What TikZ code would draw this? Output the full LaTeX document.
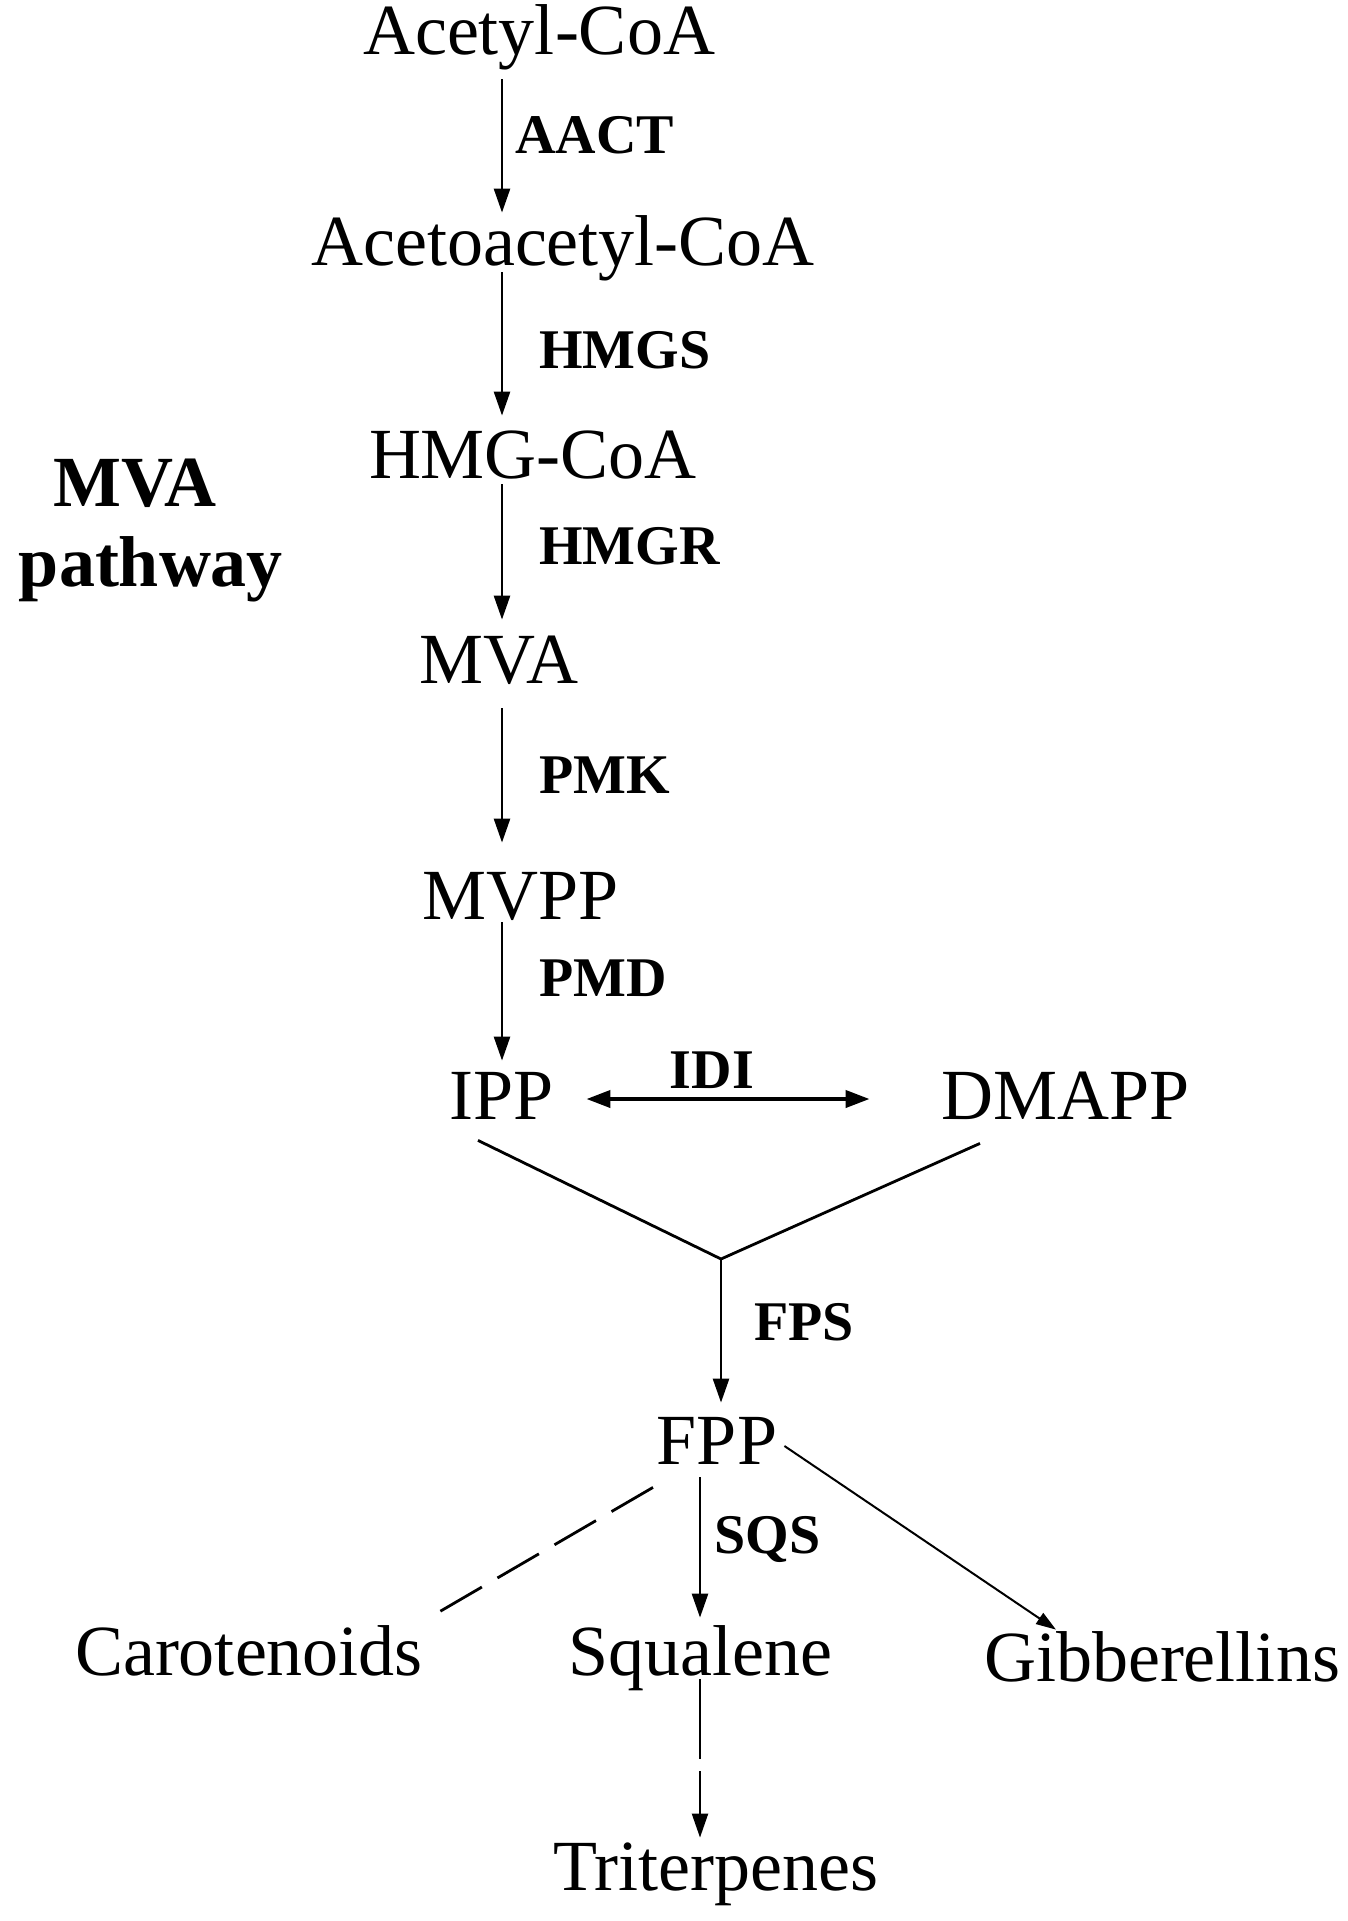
\documentclass[tikz,border=0pt]{standalone}
\usepackage{fontspec}
\setmainfont{Liberation Serif}
\usetikzlibrary{arrows.meta}

\begin{document}
\begin{tikzpicture}[x=0.5pt,y=-0.5pt,
  chem/.style={inner sep=0pt,anchor=base,font=\fontsize{36}{40}\selectfont,text height=24pt,text depth=0pt},
  enz/.style={inner sep=0pt,anchor=base west,font=\fontsize{28}{32}\selectfont\bfseries},
  title/.style={inner sep=0pt,anchor=base,font=\fontsize{36}{40}\selectfont\bfseries},
  arr/.style={line width=1.3pt,-{Triangle[length=12pt,width=8pt]}}]

  \useasboundingbox[fill=white] (0,0) rectangle (1348,1921);

  \node[chem] (acetyl) at (539,55){Acetyl-CoA};
  \node[chem] (acetoacetyl) at (563,265){Acetoacetyl-CoA};
  \node[chem] (hmg) at (533,478){HMG-CoA};
  \node[chem] (mva) at (499,683){MVA};
  \node[chem] (mvpp) at (521,919){MVPP};
  \node[chem] (ipp) at (502,1119){IPP};
  \node[chem] (dmapp) at (1066,1119){DMAPP};
  \node[chem] (fpp) at (717,1464){FPP};
  \node[chem] (carot) at (249,1675){Carotenoids};
  \node[chem] (squal) at (700,1675){Squalene};
  \node[chem] (gibb) at (1162,1681){Gibberellins};
  \node[chem] (triterp) at (716,1890){Triterpenes};

  \node[title] (mvatitle) at (135,506){MVA};
  \node[title] (pathtitle) at (151,586){pathway};

  \node[enz] (aact) at (515,154){AACT};
  \node[enz] (hmgs) at (539,368){HMGS};
  \node[enz] (hmgr) at (539,564){HMGR};
  \node[enz] (pmk) at (539,793){PMK};
  \node[enz] (pmd) at (539,996){PMD};
  \node[enz,anchor=base] (idi) at (712,1088){IDI};
  \node[enz] (fps) at (754,1340){FPS};
  \node[enz] (sqs) at (714,1553){SQS};

  \coordinate (col) at (502,0);
  \coordinate (join) at (721,1259);

  \path[arr]
   (acetyl.south -| col) edge[shorten <=12pt,shorten >=2pt] (acetoacetyl.north -| col)
   (acetoacetyl.south -| col) edge[shorten <=3.5pt,shorten >=7pt] (hmg.north -| col)
   (hmg.south -| col) edge[shorten <=3pt,shorten >=7.5pt] (mva.north -| col)
   (mva.south -| col) edge[shorten <=12.5pt,shorten >=14pt] (mvpp.north -| col)
   (mvpp.south -| col) edge[shorten <=1.5pt,shorten >=5pt] (ipp.north -| col)
   (join) edge[shorten >=6.5pt] (fpp.north -| join)
   (fpp.south -| squal) edge[shorten <=6.5pt,shorten >=4.5pt] (squal.north);

  \draw[line width=2pt,{Triangle[length=12pt,width=8.5pt]}-{Triangle[length=12pt,width=8.5pt]},
    shorten <=16pt,shorten >=36pt] ([yshift=-2pt]ipp.east) -- ([yshift=-2pt]dmapp.west);

  \draw[line width=1.4pt] ([xshift=-12pt,yshift=-10.5pt]ipp.south) -- (join)
    -- ([xshift=-43pt,yshift=-12pt]dmapp.south);

  \draw[line width=1.4pt,dash pattern=on 24pt off 9pt]
    ([xshift=-32pt,yshift=-11.5pt]fpp.south) -- ([xshift=3pt,yshift=4.5pt]carot.north east);
  \draw[line width=1pt,-{Triangle[length=10pt,width=6.5pt]}]
    ([xshift=3.5pt,yshift=-3pt]fpp.east) -- ([xshift=-53pt,yshift=1.5pt]gibb.north);
  \draw[arr,line width=1.1pt,dash pattern=on 40pt off 6pt,shorten <=2pt,shorten >=2pt]
    (squal.south) -- (triterp.north -| squal);
\end{tikzpicture}
\end{document}
